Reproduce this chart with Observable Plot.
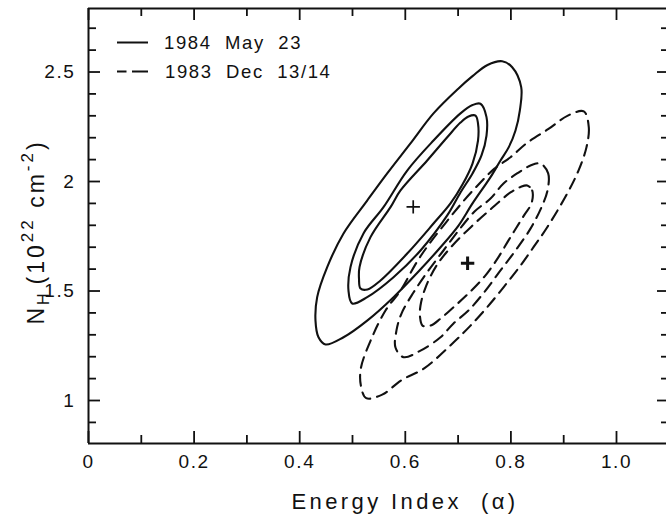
<!DOCTYPE html>
<html><head><meta charset="utf-8">
<script src="https://cdn.jsdelivr.net/npm/d3@7"></script>
<script src="https://cdn.jsdelivr.net/npm/@observablehq/plot@0.6"></script>
<style>html,body{margin:0;padding:0;background:#fff;} svg{display:block}</style>
</head><body><div id="chart"></div>
<script>
// ---- tick values & labels ----
const xTicks = [0, 0.2, 0.4, 0.6, 0.8, 1.0];
const xTickLabels = ["0", "0.2", "0.4", "0.6", "0.8", "1.0"];
const xMinorTicks = [0.1, 0.3, 0.5, 0.7, 0.9];
const yTicks = [1, 1.5, 2, 2.5];
const yTickLabels = ["1", "1.5", "2", "2.5"];
const yMinorTicks = [0.9, 1.1, 1.2, 1.3, 1.4, 1.6, 1.7, 1.8, 1.9, 2.1, 2.2, 2.3, 2.4, 2.6, 2.7];
const xDomain = [0, 1.0947];
const yDomain = [0.8037, 2.790];

// ---- series names / titles ----
const seriesNames = ["1984  May  23", "1983  Dec  13/14"];
const xTitle = "Energy Index  (\u03b1)";
const yTitleParts = ["N", "H", "(10", "22", " cm", "-2", ")"];

// ---- 1984 May 23 contours (solid) ----
const may23_outer = [[0.7835,2.549],[0.8025,2.522],[0.8195,2.431],[0.8169,2.324],[0.8087,2.233],[0.7960,2.157],[0.7803,2.096],[0.7614,2.020],[0.7273,1.900],[0.7008,1.799],[0.6667,1.700],[0.625,1.589],[0.5777,1.472],[0.5278,1.365],[0.4830,1.289],[0.4489,1.256],[0.4356,1.289],[0.4299,1.365],[0.4331,1.472],[0.4521,1.609],[0.4830,1.763],[0.5278,1.913],[0.5657,2.037],[0.6098,2.174],[0.6534,2.311],[0.7008,2.425],[0.7273,2.481],[0.7557,2.532]];
const may23_middle = [[0.7424,2.355],[0.7538,2.294],[0.7538,2.210],[0.7443,2.119],[0.7273,2.037],[0.7045,1.950],[0.6794,1.845],[0.6288,1.685],[0.5777,1.563],[0.5278,1.472],[0.4994,1.443],[0.4924,1.502],[0.4962,1.609],[0.5208,1.763],[0.5587,1.883],[0.6036,2.050],[0.6534,2.187],[0.7045,2.311],[0.7273,2.349]];
const may23_inner = [[0.7330,2.301],[0.7377,2.265],[0.7377,2.187],[0.7273,2.082],[0.7083,1.986],[0.6856,1.900],[0.6534,1.808],[0.6036,1.671],[0.5530,1.548],[0.5284,1.507],[0.5152,1.511],[0.5123,1.557],[0.5133,1.609],[0.5341,1.746],[0.5720,1.883],[0.5909,1.959],[0.6415,2.096],[0.6794,2.202],[0.7045,2.269],[0.7197,2.297]];

// ---- 1983 Dec 13/14 contours (dashed) ----
const dec83_outer = [[0.9381,2.320],[0.9475,2.248],[0.9432,2.157],[0.9280,2.050],[0.9066,1.945],[0.8688,1.791],[0.8428,1.700],[0.8182,1.616],[0.7860,1.517],[0.7551,1.426],[0.7235,1.342],[0.6951,1.274],[0.6364,1.148],[0.5928,1.093],[0.5563,1.027],[0.5259,1.011],[0.5159,1.068],[0.5159,1.148],[0.5360,1.283],[0.5625,1.411],[0.5909,1.502],[0.6212,1.630],[0.6458,1.717],[0.6780,1.816],[0.7089,1.907],[0.7405,1.991],[0.7689,2.059],[0.7992,2.111],[0.8314,2.178],[0.8712,2.240],[0.9078,2.301]];
const dec83_middle = [[0.8561,2.082],[0.8706,2.037],[0.8693,1.959],[0.8580,1.883],[0.8371,1.785],[0.8087,1.685],[0.7803,1.594],[0.7519,1.502],[0.7197,1.411],[0.6913,1.352],[0.6667,1.289],[0.6288,1.228],[0.5966,1.198],[0.5814,1.242],[0.5833,1.320],[0.5928,1.397],[0.6155,1.493],[0.6439,1.594],[0.6723,1.685],[0.7008,1.776],[0.7311,1.863],[0.7614,1.922],[0.7860,1.991],[0.8144,2.041],[0.8371,2.073]];
const dec83_inner = [[0.8309,1.982],[0.8403,1.959],[0.8390,1.900],[0.8258,1.849],[0.8106,1.790],[0.7955,1.731],[0.7746,1.648],[0.75,1.566],[0.7197,1.489],[0.6913,1.426],[0.6667,1.374],[0.6477,1.342],[0.6326,1.342],[0.6278,1.384],[0.6288,1.434],[0.6383,1.516],[0.6591,1.616],[0.6894,1.708],[0.7273,1.799],[0.7652,1.881],[0.7992,1.950],[0.8182,1.975]];

// ---- best-fit points (May 23, Dec 13/14) ----
const bestX = [0.615, 0.718];
const bestY = [1.884, 1.627];

// ---- build tables ----
const contourSets = [
  {set: 0, pts: may23_outer}, {set: 0, pts: may23_middle}, {set: 0, pts: may23_inner},
  {set: 1, pts: dec83_outer}, {set: 1, pts: dec83_middle}, {set: 1, pts: dec83_inner}
];
const rows = contourSets.flatMap((c, k) => c.pts.map(([x, y]) => ({x, y, key: k, set: c.set})));
const best = bestX.map((x, i) => ({x, y: bestY[i], set: i}));

const W = 666, H = 515, mL = 88, mR = 0, mT = 8, mB = 72;
const pw = W - mL - mR, ph = H - mT - mB;

const plusSymbol = {
  draw(context, size) {
    const r = Math.sqrt(size / Math.PI);
    context.moveTo(-r, 0); context.lineTo(r, 0);
    context.moveTo(0, -r); context.lineTo(0, r);
  }
};

const ink = "#111";
const dash = "11,7";
const plot = Plot.plot({
  width: W, height: H,
  marginLeft: mL, marginRight: mR, marginTop: mT, marginBottom: mB,
  x: {domain: xDomain, label: null},
  y: {domain: yDomain, label: null},
  style: {background: "white", color: ink, fontFamily: "'Liberation Sans', Arial, sans-serif", letterSpacing: "1.6px"},
  marks: [
    Plot.line(rows.filter(d => d.set === 0), {x: "x", y: "y", z: "key", curve: "catmull-rom-closed", stroke: ink, strokeWidth: 2.1}),
    Plot.line(rows.filter(d => d.set === 1), {x: "x", y: "y", z: "key", curve: "catmull-rom-closed", stroke: ink, strokeWidth: 2.1, strokeDasharray: dash}),
    Plot.dot(best, {x: "x", y: "y", symbol: plusSymbol, r: 6.7, fill: "none", stroke: ink, strokeWidth: d => d.set === 0 ? 1.7 : 3}),
    // inward ticks
    Plot.tickX(xTicks, {x: d => d, insetTop: ph - 12, stroke: ink, strokeWidth: 1.8}),
    Plot.tickX(xMinorTicks, {x: d => d, insetTop: ph - 8, stroke: ink, strokeWidth: 1.8}),
    Plot.tickX(xTicks, {x: d => d, insetBottom: ph - 12, stroke: ink, strokeWidth: 1.8}),
    Plot.tickX(xMinorTicks, {x: d => d, insetBottom: ph - 8, stroke: ink, strokeWidth: 1.8}),
    Plot.tickY(yTicks, {y: d => d, insetRight: pw - 12, stroke: ink, strokeWidth: 1.8}),
    Plot.tickY(yMinorTicks, {y: d => d, insetRight: pw - 8, stroke: ink, strokeWidth: 1.8}),
    Plot.tickY(yTicks, {y: d => d, insetLeft: pw - 9, stroke: ink, strokeWidth: 1.8}),
    Plot.tickY(yMinorTicks, {y: d => d, insetLeft: pw - 5, stroke: ink, strokeWidth: 1.8}),
    // frame (left, bottom, top)
    Plot.ruleX([xDomain[0]], {stroke: ink, strokeWidth: 2}),
    Plot.ruleY([yDomain[0]], {stroke: ink, strokeWidth: 2}),
    Plot.ruleY([yDomain[1]], {stroke: ink, strokeWidth: 2}),
    Plot.axisX({ticks: xTicks, tickSize: 0, tickPadding: 11, label: null, fontSize: 19,
      tickFormat: d => xTickLabels[xTicks.indexOf(d)]}),
    Plot.axisY({ticks: yTicks, tickSize: 0, tickPadding: 13, label: null, fontSize: 19,
      tickFormat: d => yTickLabels[yTicks.indexOf(d)]})
  ]
});

const svg = d3.select(plot);
// legend
const lg = svg.append("g").attr("stroke", ink).attr("stroke-width", 2);
lg.append("line").attr("x1", 117).attr("x2", 148).attr("y1", 42.5).attr("y2", 42.5);
lg.append("line").attr("x1", 117).attr("x2", 148).attr("y1", 71.5).attr("y2", 71.5).attr("stroke-dasharray", "9.5,5.5,16");
const lt = svg.append("g").attr("fill", ink).attr("font-size", 18.5).attr("text-anchor", "start")
  .style("letter-spacing", "1.6px");
lt.append("text").attr("x", 164).attr("y", 49.3).text(seriesNames[0]);
lt.append("text").attr("x", 165).attr("y", 78.3).text(seriesNames[1]);

// x title
svg.append("text").attr("x", 405).attr("y", 509).attr("text-anchor", "middle")
  .attr("font-size", 22).attr("fill", ink).style("letter-spacing", "3.4px")
  .text(xTitle);

// y title with sub/superscripts
const yt = svg.append("text").attr("transform", "translate(44,232) rotate(-90)")
  .attr("text-anchor", "middle").attr("font-size", 23).attr("fill", ink).style("letter-spacing", "3px");
yt.append("tspan").text(yTitleParts[0]);
yt.append("tspan").attr("font-size", 16).attr("dy", 5).text(yTitleParts[1]);
yt.append("tspan").attr("dy", -5).attr("dx", 6).text(yTitleParts[2]);
yt.append("tspan").attr("font-size", 17).attr("dy", -11).text(yTitleParts[3]);
yt.append("tspan").attr("dy", 11).text(yTitleParts[4]);
yt.append("tspan").attr("font-size", 17).attr("dy", -11).text(yTitleParts[5]);
yt.append("tspan").attr("dy", 11).text(yTitleParts[6]);

document.getElementById("chart").appendChild(plot);
</script></body></html>
